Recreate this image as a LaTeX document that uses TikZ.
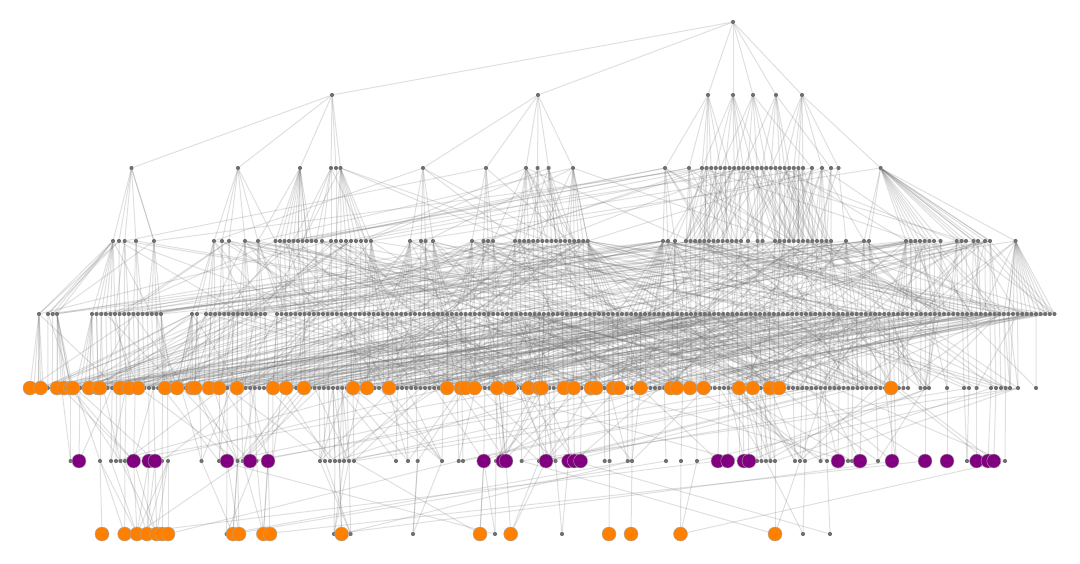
\documentclass[tikz,border=0pt]{standalone}
\pgfdeclarelayer{edgelayer}
\pgfsetlayers{edgelayer,main}
\definecolor{dotgray}{HTML}{707070}
\definecolor{nodeorange}{HTML}{FF8000}
\definecolor{nodepurple}{HTML}{800080}
\definecolor{edgegray}{HTML}{6E6E6E}
\tikzset{
  dotnode/.style={circle,fill=dotgray,draw=none,inner sep=0pt,minimum size=4.2pt},
  orangenode/.style={circle,fill=nodeorange,draw=black!35,line width=0.4pt,inner sep=0pt,minimum size=14pt},
  purplenode/.style={circle,fill=nodepurple,draw=black!35,line width=0.4pt,inner sep=0pt,minimum size=14pt},
  edgeline/.style={draw=edgegray,draw opacity=0.22,line width=1pt},
}
\newcount\tmpcnt
\newdimen\bestd
\newdimen\bestA
\newdimen\bestB
\newdimen\curd
\def\typeg{g}\def\typeo{o}\def\typep{p}
\newcommand\addnode[3]{%
  \expandafter\ifx\csname N#1\endcsname\relax\expandafter\xdef\csname N#1\endcsname{0}\fi
  \global\tmpcnt=\csname N#1\endcsname\relax
  \global\advance\tmpcnt by 1
  \expandafter\xdef\csname N#1\endcsname{\the\tmpcnt}%
  \expandafter\xdef\csname X#1-\the\tmpcnt\endcsname{#2}%
  \expandafter\xdef\csname T#1-\the\tmpcnt\endcsname{#3}%
}
\newcommand\addnodes[3]{\foreach \qq in {#3}{\addnode{#1}{\qq}{#2}}}
\newcommand\addrange[5]{%
  \foreach \kk in {1,...,#5}{\pgfmathsetmacro\qq{#3+(\kk-1)*#4}\addnode{#1}{\qq}{#2}}}
\newcommand\drawrow[2]{%
  \edef\nn{\csname N#1\endcsname}%
  \foreach \ii in {1,...,\nn}{%
    \edef\ty{\csname T#1-\ii\endcsname}%
    \edef\xx{\csname X#1-\ii\endcsname}%
    \ifx\ty\typeg \node[dotnode] (r#1-\ii) at (\xx,#2) {};\fi
  }%
  \foreach \ii in {1,...,\nn}{%
    \edef\ty{\csname T#1-\ii\endcsname}%
    \edef\xx{\csname X#1-\ii\endcsname}%
    \ifx\ty\typeo \node[orangenode] (r#1-\ii) at (\xx,#2) {};\fi
    \ifx\ty\typep \node[purplenode] (r#1-\ii) at (\xx,#2) {};\fi
  }%
}
% parent row, child row, window, p permille, long rate permille, offset lo, offset hi, parent xmin, parent xmax
\newcommand\linkrows[9]{%
  \edef\ncc{\csname N#2\endcsname}%
  \edef\npp{\csname N#1\endcsname}%
  \foreach \ci in {1,...,\ncc}{%
    \edef\xc{\csname X#2-\ci\endcsname}%
    \pgfmathrandominteger{\rr}{0}{999}%
    \pgfmathtruncatemacro\nlong{(#5+\rr)/1000}%
    \pgfmathsetmacro\tA{\xc+(#6)+rnd*((#7)-(#6))}%
    \pgfmathsetmacro\tA{\tA>#9 ? \xc-rnd*0.5*((#7)-(#6)) : \tA}%
    \pgfmathsetmacro\tA{\tA<#8 ? \xc+rnd*abs(#7) : \tA}%
    \pgfmathsetmacro\tB{\xc+(#6)+rnd*((#7)-(#6))}%
    \pgfmathsetmacro\tB{\tB>#9 ? \xc-rnd*0.5*((#7)-(#6)) : \tB}%
    \pgfmathsetmacro\tB{\tB<#8 ? \xc+rnd*abs(#7) : \tB}%
    \global\bestd=16000pt \global\bestA=16000pt \global\bestB=16000pt
    \gdef\bestp{1}\gdef\bestpA{1}\gdef\bestpB{1}%
    \foreach \pj in {1,...,\npp}{%
      \edef\xp{\csname X#1-\pj\endcsname}%
      \curd=\dimexpr\xp pt-\xc pt\relax
      \ifdim\curd<0pt \curd=-\curd\fi
      \ifdim\curd<\bestd \global\bestd=\curd \xdef\bestp{\pj}\fi
      \ifdim\curd<#3pt
        \pgfmathrandominteger{\rr}{1}{1000}%
        \ifnum\rr<#4\relax \draw[edgeline] (r#1-\pj) -- (r#2-\ci);\fi
      \fi
      \curd=\dimexpr\xp pt-(\tA pt)\relax
      \ifdim\curd<0pt \curd=-\curd\fi
      \ifdim\curd<\bestA \global\bestA=\curd \xdef\bestpA{\pj}\fi
      \curd=\dimexpr\xp pt-(\tB pt)\relax
      \ifdim\curd<0pt \curd=-\curd\fi
      \ifdim\curd<\bestB \global\bestB=\curd \xdef\bestpB{\pj}\fi
    }%
    \draw[edgeline] (r#1-\bestp) -- (r#2-\ci);
    \ifnum\nlong>0 \draw[edgeline] (r#1-\bestpA) -- (r#2-\ci);\fi
    \ifnum\nlong>1 \draw[edgeline] (r#1-\bestpB) -- (r#2-\ci);\fi
  }%
}
% ---------- node positions ----------
\addnodes{0}{g}{733}
\addnodes{1}{g}{332,538,708,733,753,776,802}
\addnodes{2}{g}{131.5,238,300,331,336,340.5,423,486,526,537.6,548.6,573,665,689}
\addrange{2}{g}{702}{4.59}{23}
\addnodes{2}{g}{812,822,831,838.5,880.6}
\addnodes{3}{g}{113,119,124.7,136,154,214,222,229,245,258}
\addrange{3}{g}{275.5}{4.5}{10}
\addnodes{3}{g}{322}
\addrange{3}{g}{331}{5}{9}
\addnodes{3}{g}{410,421,425.6,433,472,483.5,488,493}
\addrange{3}{g}{515}{4.55}{17}
\addnodes{3}{g}{663,668,675}
\addrange{3}{g}{686}{4.58}{13}
\addnodes{3}{g}{748,757.6,762.5}
\addrange{3}{g}{775}{4.67}{13}
\addnodes{3}{g}{846,864,869}
\addrange{3}{g}{906}{4.67}{7}
\addnodes{3}{g}{940.5,956.7,961.5,966,973.5,978,985,990,1015.5}
\addnodes{4}{g}{39,48,52.7,57}
\addrange{4}{g}{92}{4.6}{16}
\addnodes{4}{g}{192,197}
\addrange{4}{g}{206}{4.54}{14}
\addrange{4}{g}{277}{4.6}{170}
\addrange{5}{g}{34}{4.6}{191}
\addnodes{5}{g}{920.5,925,929,947,964,969,976.6,991,996,1001,1005.6,1010,1018,1036}
\addnodes{5}{o}{30,40.6,57,64,70.6,73,89,98,100,120,129,138,165,177,192,195,209,219,237,273,286,304,353,367,389,447,461,465.6,474.5,497,510,528.6,539,541.7,564,573.7,591,596,613,619,640.5,671,676.7,690,703.6,739,752.8,770,779,891}
\addnodes{6}{g}{70.6,100,111,116,120.5,125,162,168,201.5,219,237.6,242.8,256.5,272.7,320,325,330,335,339.5,344,349,354,396,408,417.7,442,458.7,463,496,521.7,539,551,555.5,604.7,609.6,627.8,632,666,681,697,739,757,761.5,766,770.5,775,795,800,805,820.6,827,848,852,878,896,967,1005}
\addnodes{6}{p}{79,133.6,148.8,155,227,250,268,483.8,502.8,506,546,568.6,574.4,580.6,718,727.7,744,749,838,860,892,925,947,976.6,988,993.8}
\addnodes{7}{g}{226.6,334,350.6,413,495,562,803,830}
\addnodes{7}{o}{102,124.7,137,147,156.7,162,168,233,239,263.4,270,341.6,480,510.7,609,631,680.5,775}
\begin{document}
\begin{tikzpicture}[x=1pt,y=-1pt]
\useasboundingbox (0,0) rectangle (1080,563);
\drawrow{0}{22}
\drawrow{1}{95}
\drawrow{2}{168}
\drawrow{3}{241}
\drawrow{4}{314}
\drawrow{5}{388}
\drawrow{6}{461}
\drawrow{7}{534}
\begin{pgfonlayer}{edgelayer}
\pgfmathsetseed{271828}
\foreach \bb in {1,...,7}{\draw[edgeline] (r0-1) -- (r1-\bb);}
\foreach \aa/\bb in {1/1,1/2,1/3,1/4,1/5,1/6,2/7,2/8,2/9,2/10,2/11,2/12,3/13,3/14,3/15,3/16,3/17,3/19,3/21,4/15,4/18,4/20,4/22,4/23,4/24,4/26,4/28,5/19,5/22,5/25,5/27,5/29,5/31,5/38,6/24,6/28,6/30,6/32,6/33,6/34,6/40,7/30,7/33,7/35,7/36,7/37,7/39,7/41,7/42}{\draw[edgeline] (r1-\aa) -- (r2-\bb);}
\linkrows{2}{3}{50}{150}{450}{150}{650}{131}{881}
\linkrows{3}{4}{120}{25}{900}{-250}{700}{113}{1016}
\linkrows{4}{5}{80}{15}{1300}{60}{650}{39}{1055}
\linkrows{5}{6}{80}{30}{700}{-100}{500}{30}{1036}
\linkrows{6}{7}{40}{150}{500}{100}{800}{70}{1005}
\end{pgfonlayer}
\end{tikzpicture}
\end{document}
